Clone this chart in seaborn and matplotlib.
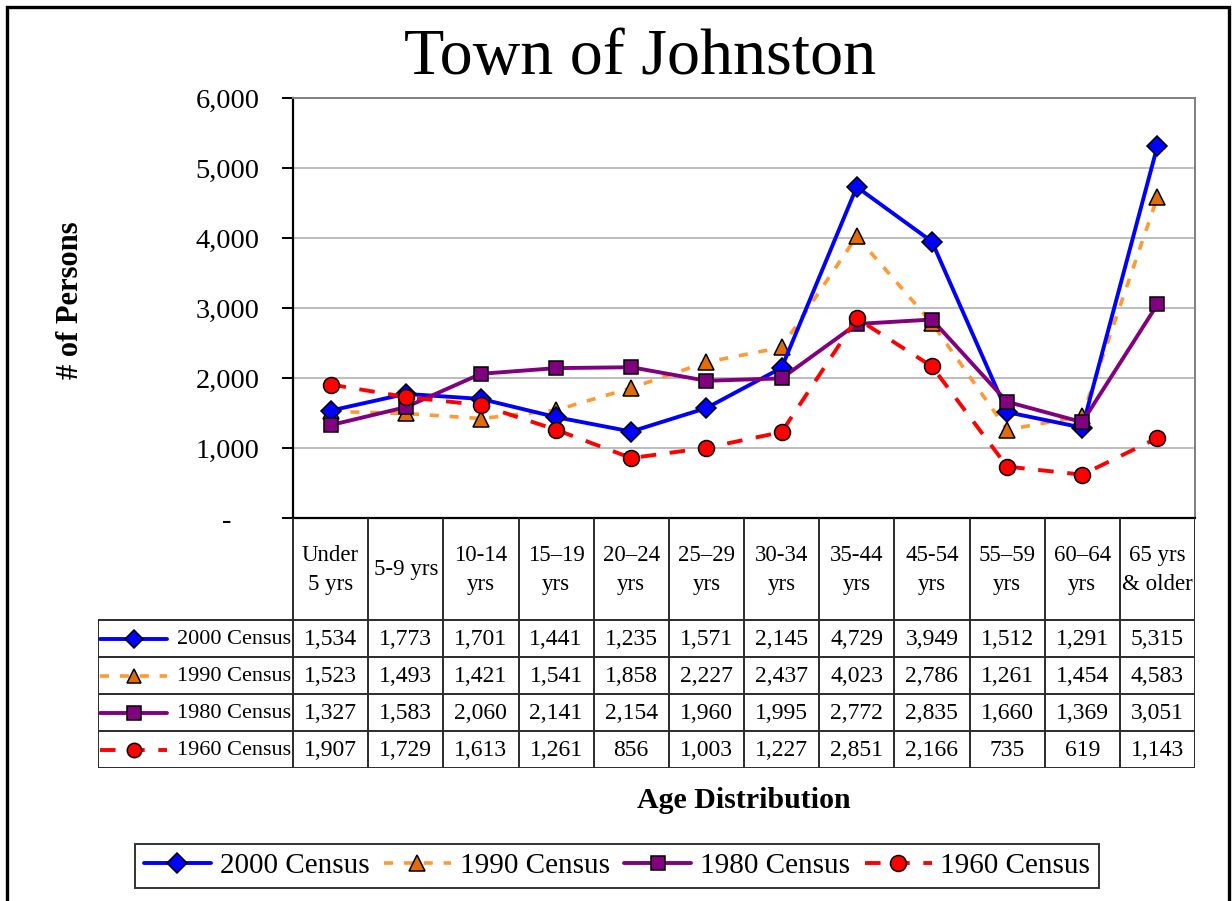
import numpy as np
import pandas as pd
import seaborn as sns
import matplotlib.pyplot as plt
from matplotlib.patches import Rectangle

age_groups = ["Under\n5 yrs", "5-9 yrs", "10-14\nyrs", "15\u201319\nyrs", "20\u201324\nyrs",
              "25\u201329\nyrs", "30-34\nyrs", "35-44\nyrs", "45-54\nyrs", "55\u201359\nyrs",
              "60\u201364\nyrs", "65 yrs\n& older"]
census_2000 = [1534, 1773, 1701, 1441, 1235, 1571, 2145, 4729, 3949, 1512, 1291, 5315]
census_1990 = [1523, 1493, 1421, 1541, 1858, 2227, 2437, 4023, 2786, 1261, 1454, 4583]
census_1980 = [1327, 1583, 2060, 2141, 2154, 1960, 1995, 2772, 2835, 1660, 1369, 3051]
census_1960 = [1907, 1729, 1613, 1261, 856, 1003, 1227, 2851, 2166, 735, 619, 1143]
series_names = ["2000 Census", "1990 Census", "1980 Census", "1960 Census"]
y_ticks = [0, 1000, 2000, 3000, 4000, 5000, 6000]

sns.set_theme(style="white")
plt.rcParams['font.family'] = ['Liberation Serif', 'DejaVu Serif']
plt.rcParams.update({"text.color": "black", "axes.labelcolor": "black",
                     "xtick.color": "black", "ytick.color": "black"})

W, H = 1232, 901
fig = plt.figure(figsize=(W / 100, H / 100), dpi=100)

# plot area (pixel layout)
L, R, T, B = 293, 1195, 98, 518
ax = fig.add_axes([L / W, 1 - B / H, (R - L) / W, (B - T) / H])

x = np.arange(len(age_groups))
styles = {
    "2000 Census": dict(color="#0000FF", marker="D", markersize=10.5, mfc="#0000FF",
                        linestyle="-", linewidth=2.8, zorder=4),
    "1990 Census": dict(color="#FF9933", marker="^", markersize=11.5, mfc="#E36C0A",
                        linestyle=(0, (2.5, 3.0)), linewidth=2.6, zorder=3),
    "1980 Census": dict(color="#800080", marker="s", markersize=10.5, mfc="#800080",
                        linestyle="-", linewidth=2.8, zorder=5),
    "1960 Census": dict(color="#FF0000", marker="o", markersize=11.5, mfc="#FF0000",
                        linestyle=(0, (4, 3.5)), linewidth=2.8, zorder=6),
}
values = {"2000 Census": census_2000, "1990 Census": census_1990,
          "1980 Census": census_1980, "1960 Census": census_1960}

for name in series_names:
    st = styles[name]
    sns.lineplot(x=x, y=values[name], ax=ax, label=name, color=st["color"],
                 marker=st["marker"], markersize=st["markersize"],
                 markerfacecolor=st["mfc"], markeredgecolor="black",
                 markeredgewidth=1.1, linestyle=st["linestyle"],
                 linewidth=st["linewidth"], zorder=st["zorder"])
if ax.get_legend() is not None:
    ax.get_legend().remove()
handles = list(ax.lines)

ax.set_xlim(-0.5, len(age_groups) - 0.5)
ax.set_ylim(0, 6000)
ax.set_yticks(y_ticks)
ax.set_yticklabels(["-    "] + [f"{v:,}" for v in y_ticks[1:]], fontsize=20.5)
ax.set_xticks([])
ax.set_xlabel("")
ax.set_ylabel("")
ax.yaxis.grid(True, color="#BDBDBD", linewidth=1.4)
ax.set_axisbelow(True)
ax.tick_params(axis="y", which="major", left=True, length=8, width=1.4,
               color="black", pad=16)
for side in ["left", "bottom"]:
    ax.spines[side].set_color("black")
    ax.spines[side].set_linewidth(1.6)
for side in ["top", "right"]:
    ax.spines[side].set_color("#808080")
    ax.spines[side].set_linewidth(1.4)

# data table under the plot, sharing the category positions
TL, TB = 98, 768
rows_y = [620, 657, 694, 731, 768]
ax_t = fig.add_axes([TL / W, 1 - TB / H, (R - TL) / W, (TB - B) / H])
unit = (R - L) / len(age_groups)
x_left = -0.5 - (L - TL) / unit
ax_t.set_xlim(x_left, len(age_groups) - 0.5)
ax_t.set_ylim(TB, B)
ax_t.axis("off")

grid_kw = dict(color="#2b2b2b", linewidth=1.4)
for k in range(len(age_groups) + 1):
    ax_t.plot([k - 0.5, k - 0.5], [B, TB], **grid_kw)
ax_t.plot([x_left, x_left], [rows_y[0], TB], **grid_kw)
for yy in rows_y:
    ax_t.plot([x_left, len(age_groups) - 0.5], [yy, yy], **grid_kw)

for i, lab in enumerate(age_groups):
    ax_t.text(i, (B + rows_y[0]) / 2 + 1, lab, ha="center", va="center",
              fontsize=16.5, linespacing=1.55)

for r, name in enumerate(series_names):
    yc = (rows_y[r] + rows_y[r + 1]) / 2
    st = styles[name]
    kx0 = x_left + 0.03
    kx1 = x_left + 0.92
    ax_t.plot([kx0, kx1], [yc, yc], color=st["color"], linestyle=st["linestyle"],
              linewidth=st["linewidth"])
    ax_t.plot([(kx0 + kx1) / 2], [yc], marker=st["marker"],
              markersize=st["markersize"] * 0.9, markerfacecolor=st["mfc"],
              markeredgecolor="black", markeredgewidth=1.1, linestyle="none")
    ax_t.text(-0.53, yc + 1, name, ha="right", va="center", fontsize=16)
    for i, v in enumerate(values[name]):
        ax_t.text(i, yc + 1, f"{v:,}", ha="center", va="center", fontsize=17)

# titles and axis labels
fig.text(640 / W, 1 - 58 / H, "Town of Johnston", ha="center", va="center", fontsize=47.5)
fig.text(70 / W, 1 - 300 / H, "# of Persons", ha="center", va="center",
         rotation=90, fontsize=22, fontweight="bold")
fig.text((L + R) / 2 / W, 1 - 800 / H, "Age Distribution", ha="center", va="center",
         fontsize=21.5, fontweight="bold")

leg = fig.legend(handles=handles, labels=series_names, loc="center",
                 bbox_to_anchor=(617 / W, 1 - 866 / H), ncol=4, fontsize=21,
                 frameon=True, fancybox=False, handlelength=2.3, columnspacing=0.5,
                 handletextpad=0.3, borderpad=0.3, borderaxespad=0)
leg.get_frame().set_edgecolor("black")
leg.get_frame().set_linewidth(1.4)

# outer frame of the figure
fig.patches.append(Rectangle((7 / W, -0.05), (1229 - 7) / W, 1.05 - 7 / H,
                             transform=fig.transFigure, fill=False,
                             edgecolor="black", linewidth=2.4))

fig.savefig("out.png", dpi=100)
